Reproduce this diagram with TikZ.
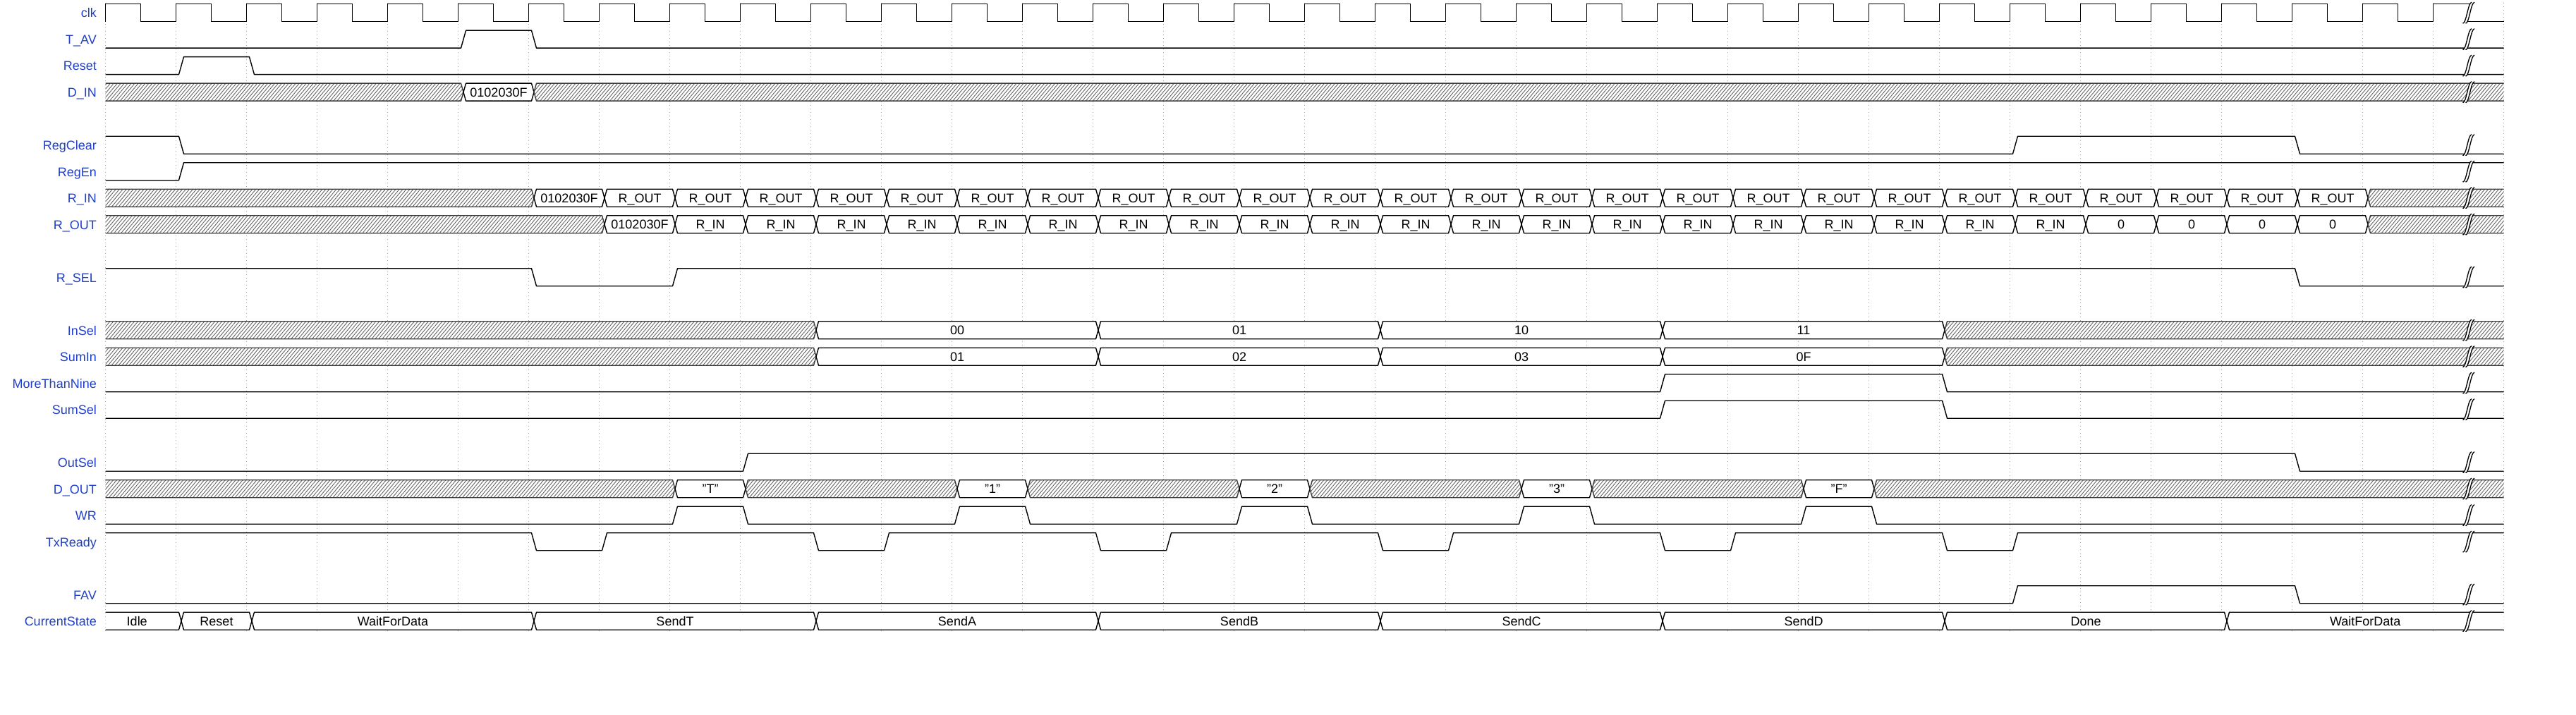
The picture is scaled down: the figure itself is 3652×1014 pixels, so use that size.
\documentclass[tikz,border=0pt]{standalone}
\usepackage{fontspec}
\setmainfont{Liberation Sans}
\usetikzlibrary{patterns.meta}
\definecolor{lblblue}{RGB}{32,64,200}
\definecolor{hatchgray}{RGB}{100,100,100}
\definecolor{gridgray}{RGB}{165,165,165}
\definecolor{edgegray}{RGB}{60,60,60}
\tikzset{
  sig/.style={line width=1.4pt, draw=black, line join=round},
  busline/.style={line width=1.4pt, draw=black, line join=round},
  hatchline/.style={line width=1.4pt, draw=edgegray, line join=round},
  gridline/.style={line width=1pt, draw=gridgray, dash pattern=on 1pt off 4pt},
  lbl/.style={anchor=base east, inner sep=0pt, text=lblblue, font=\fontsize{18}{20}\selectfont},
  boxtxt/.style={anchor=base, inner sep=0pt, text=black, font=\fontsize{18}{20}\selectfont},
  brkline/.style={line width=1.3pt, draw=black},
  hatchfill/.style={pattern={Lines[angle=50,distance=3.8pt,line width=0.9pt]}, pattern color=hatchgray},
}
% bus segment: row, start, end, text (empty = hatched)
\newcommand\busseg[4]{%
  \pgfmathsetmacro\yT{5.7+37.5*#1}%
  \pgfmathsetmacro\yB{\yT+25}%
  \pgfmathsetmacro\yM{\yT+12.5}%
  \pgfmathsetmacro\yBase{\yT+19.1}%
  \ifnum#2=0 \def\xLp{149.5}\def\xLc{149.5}%
  \else \pgfmathsetmacro\xLp{149.5+100*#2+7.5}\pgfmathsetmacro\xLc{149.5+100*#2+11}\fi
  \ifnum#3=34 \def\xRp{3549.5}\def\xRc{3549.5}%
  \else \pgfmathsetmacro\xRp{149.5+100*#3+7.5}\pgfmathsetmacro\xRc{149.5+100*#3+4}\fi
  \fill[white] (\xLp,\yM) -- (\xLc,\yT) -- (\xRc,\yT) -- (\xRp,\yM) -- (\xRc,\yB) -- (\xLc,\yB) -- cycle;
  \if\relax\detokenize{#4}\relax
    \path[hatchfill] (\xLp,\yM) -- (\xLc,\yT) -- (\xRc,\yT) -- (\xRp,\yM) -- (\xRc,\yB) -- (\xLc,\yB) -- cycle;
    \tikzset{curseg/.style={hatchline}}%
  \else
    \ifnum#2=0 \pgfmathsetmacro\xC{(131.5+\xRp)/2}%
    \else \pgfmathsetmacro\xC{(\xLp+\xRp)/2}\fi
    \node[boxtxt] (bx#1-#2) at (\xC,\yBase) {#4};
    \tikzset{curseg/.style={busline}}%
  \fi
  \ifnum#2=0
    \ifnum#3=34
      \draw[curseg] (\xLc,\yT) -- (\xRc,\yT); \draw[curseg] (\xLc,\yB) -- (\xRc,\yB);
    \else
      \draw[curseg] (\xLc,\yT) -- (\xRc,\yT) -- (\xRp,\yM) -- (\xRc,\yB) -- (\xLc,\yB);
    \fi
  \else
    \ifnum#3=34
      \draw[curseg] (\xRc,\yT) -- (\xLc,\yT) -- (\xLp,\yM) -- (\xLc,\yB) -- (\xRc,\yB);
    \else
      \draw[curseg] (\xLp,\yM) -- (\xLc,\yT) -- (\xRc,\yT) -- (\xRp,\yM) -- (\xRc,\yB) -- (\xLc,\yB) -- cycle;
    \fi
  \fi
}
% single bit wave: row, initial level, final level, transition times
\newcommand\bitwave[4]{%
  \pgfmathsetmacro\yH{5.7+37.5*#1}%
  \pgfmathsetmacro\yL{\yH+25}%
  \draw[sig] (149.5,{\yL-25*#2})
    \foreach \tv [count=\i] in {#4} {
      -- ({149.5+100*\tv+4},{\yL-25*mod(#2+\i-1,2)})
      -- ({149.5+100*\tv+11},{\yL-25*(1-mod(#2+\i-1,2))}) }
    -- (3549.5,{\yL-25*#3});
}
% break mark on a row
\newcommand\brkmark[1]{%
  \pgfmathsetmacro\yT{5.7+37.5*#1-2.5}%
  \pgfmathsetmacro\yB{5.7+37.5*#1+27.5}%
  \fill[white] (3491.5,\yB) .. controls (3496.5,\yB) and (3499,\yT) .. (3504,\yT)
     -- (3508,\yT) .. controls (3503,\yT) and (3500.5,\yB) .. (3495.5,\yB) -- cycle;
  \draw[brkline] (3491.5,\yB) .. controls (3496.5,\yB) and (3499,\yT) .. (3504,\yT);
  \draw[brkline] (3495.5,\yB) .. controls (3500.5,\yB) and (3503,\yT) .. (3508,\yT);
}
\begin{document}
\begin{tikzpicture}[x=1pt,y=-1pt]
\useasboundingbox (0,0) rectangle (3652,1014);
\fill[white] (0,0) rectangle (3652,1014);
% grid
\foreach \k in {0,...,34} \draw[gridline] ({149.5+100*\k},4) -- ({149.5+100*\k},897);
% labels
\foreach \r/\nm in {0/clk,1/T\_AV,2/Reset,3/D\_IN,5/RegClear,6/RegEn,7/R\_IN,8/R\_OUT,10/R\_SEL,12/InSel,13/SumIn,14/MoreThanNine,15/SumSel,17/OutSel,18/D\_OUT,19/WR,20/TxReady,22/FAV,23/CurrentState}
  \node[lbl] (lbl\r) at (137,{5.7+37.5*\r+19.3}) {\nm};
% clock
\draw[sig, line join=miter] (149.5,30.7) \foreach \k in {0,...,32} {
   -- ({149.5+100*\k},5.7) -- ({199.5+100*\k},5.7) -- ({199.5+100*\k},30.7) -- ({249.5+100*\k},30.7) }
   -- (3449.5,5.7) -- (3505,5.7);
\draw[sig] (3494,30.7) -- (3549.5,30.7);
% single-bit signals
\bitwave{1}{0}{0}{5,6}
\bitwave{2}{0}{0}{1,2}
\bitwave{5}{1}{0}{1,27,31}
\bitwave{6}{0}{1}{1}
\bitwave{10}{1}{0}{6,8,31}
\bitwave{14}{0}{0}{22,26}
\bitwave{15}{0}{0}{22,26}
\bitwave{17}{0}{0}{9,31}
\bitwave{19}{0}{0}{8,9,12,13,16,17,20,21,24,25}
\bitwave{20}{1}{1}{6,7,10,11,14,15,18,19,22,23,26,27}
\bitwave{22}{0}{0}{27,31}
% D_IN
\busseg{3}{0}{5}{}
\busseg{3}{5}{6}{0102030F}
\busseg{3}{6}{34}{}
% R_IN
\busseg{7}{0}{6}{}
\busseg{7}{6}{7}{0102030F}
\foreach \k [evaluate=\k as \kk using int(\k+1)] in {7,...,31} {\busseg{7}{\k}{\kk}{R\_OUT}}
\busseg{7}{32}{34}{}
% R_OUT
\busseg{8}{0}{7}{}
\busseg{8}{7}{8}{0102030F}
\foreach \k [evaluate=\k as \kk using int(\k+1)] in {8,...,27} {\busseg{8}{\k}{\kk}{R\_IN}}
\foreach \k [evaluate=\k as \kk using int(\k+1)] in {28,...,31} {\busseg{8}{\k}{\kk}{0}}
\busseg{8}{32}{34}{}
% InSel
\busseg{12}{0}{10}{}
\busseg{12}{10}{14}{00}
\busseg{12}{14}{18}{01}
\busseg{12}{18}{22}{10}
\busseg{12}{22}{26}{11}
\busseg{12}{26}{34}{}
% SumIn
\busseg{13}{0}{10}{}
\busseg{13}{10}{14}{01}
\busseg{13}{14}{18}{02}
\busseg{13}{18}{22}{03}
\busseg{13}{22}{26}{0F}
\busseg{13}{26}{34}{}
% D_OUT
\busseg{18}{0}{8}{}
\busseg{18}{8}{9}{"T"}
\busseg{18}{9}{12}{}
\busseg{18}{12}{13}{"1"}
\busseg{18}{13}{16}{}
\busseg{18}{16}{17}{"2"}
\busseg{18}{17}{20}{}
\busseg{18}{20}{21}{"3"}
\busseg{18}{21}{24}{}
\busseg{18}{24}{25}{"F"}
\busseg{18}{25}{34}{}
% CurrentState
\busseg{23}{0}{1}{Idle}
\busseg{23}{1}{2}{Reset}
\busseg{23}{2}{6}{WaitForData}
\busseg{23}{6}{10}{SendT}
\busseg{23}{10}{14}{SendA}
\busseg{23}{14}{18}{SendB}
\busseg{23}{18}{22}{SendC}
\busseg{23}{22}{26}{SendD}
\busseg{23}{26}{30}{Done}
\busseg{23}{30}{34}{WaitForData}
% breaks
\foreach \r in {0,1,2,3,5,6,7,8,10,12,13,14,15,17,18,19,20,22,23} {\brkmark{\r}}
\end{tikzpicture}
\end{document}
